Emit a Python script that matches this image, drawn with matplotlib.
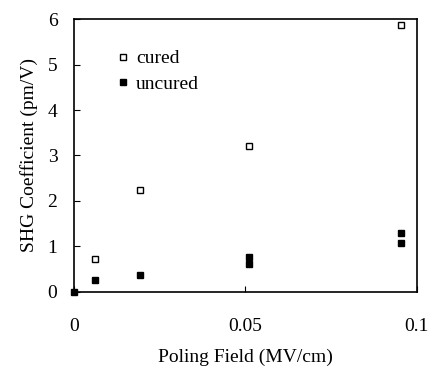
import matplotlib
matplotlib.use("Agg")
import matplotlib.pyplot as plt

plt.rcParams['font.family'] = ['Liberation Serif', 'DejaVu Serif']

cured_x = [0.0061, 0.0192, 0.051, 0.0955]
cured_y = [0.72, 2.23, 3.21, 5.87]
uncured_x = [0.0, 0.0061, 0.0192, 0.051, 0.051, 0.0955, 0.0955]
uncured_y = [0.0, 0.25, 0.38, 0.61, 0.76, 1.08, 1.30]

xticks = [0, 0.05, 0.1]
xticklabels = ['0', '0.05', '0.1']
yticks = [0, 1, 2, 3, 4, 5, 6]

fig = plt.figure(figsize=(4.28, 3.68), dpi=100)
ax = fig.add_axes([0.173, 0.207, 0.801, 0.741])

ax.plot(cured_x, cured_y, 's', ms=4.5, mfc='white', mec='black', mew=1.0,
        ls='none', label='cured', clip_on=False)
ax.plot(uncured_x, uncured_y, 's', ms=4.5, color='black',
        ls='none', label='uncured', clip_on=False)

ax.set_xlim(0, 0.1)
ax.set_ylim(0, 6)
ax.set_xticks(xticks)
ax.set_xticklabels(xticklabels)
ax.set_yticks(yticks)
ax.tick_params(axis='x', direction='in', length=4, pad=19, labelsize=14)
ax.tick_params(axis='y', direction='in', length=4, pad=12, labelsize=14)
for s in ax.spines.values():
    s.set_linewidth(1.2)

ax.set_xlabel('Poling Field (MV/cm)', fontsize=14, labelpad=10)
ax.set_ylabel('SHG Coefficient (pm/V)', fontsize=14, labelpad=7)

ax.legend(loc='upper left', bbox_to_anchor=(0.068, 0.952), frameon=False,
          fontsize=14, handletextpad=0.3, labelspacing=0.42, handlelength=0.8)

fig.savefig('out.png', dpi=100)
